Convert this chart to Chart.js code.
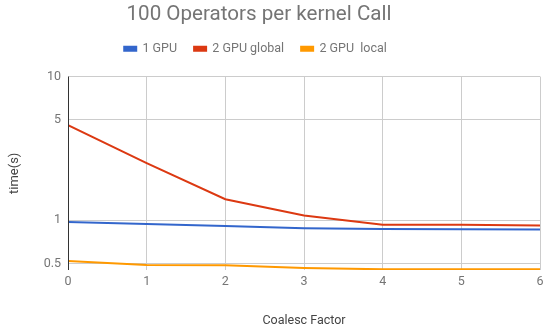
<!DOCTYPE html>
<html>
<head>
<meta charset="utf-8">
<script src="https://cdn.jsdelivr.net/npm/chart.js@4"></script>
<style>
    html, body { margin: 0; padding: 0; background: #fff; }
    #wrap { width: 550px; height: 330px; position: relative; }
</style>
</head>
<body>
<div id="wrap"><canvas id="chart"></canvas></div>
<script>
const coalescFactor = [0, 1, 2, 3, 4, 5, 6];
const oneGpu = [0.97, 0.94, 0.91, 0.88, 0.87, 0.865, 0.86];
const twoGpuGlobal = [4.6, 2.5, 1.4, 1.08, 0.93, 0.93, 0.92];
const twoGpuLocal = [0.52, 0.487, 0.485, 0.465, 0.455, 0.455, 0.455];
const yTicks = [0.5, 1, 5, 10];

const textColor = '#757575';
const font = 'Roboto';

function toPoints(values) {
    return coalescFactor.map((x, i) => ({ x: x, y: values[i] }));
}

// dark left axis line like the original
const leftAxisLine = {
    id: 'leftAxisLine',
    afterDatasetsDraw(chart) {
        const { ctx, chartArea } = chart;
        ctx.save();
        ctx.strokeStyle = '#333';
        ctx.lineWidth = 1;
        ctx.beginPath();
        ctx.moveTo(chartArea.left + 0.5, chartArea.top);
        ctx.lineTo(chartArea.left + 0.5, chartArea.bottom);
        ctx.stroke();
        ctx.restore();
    }
};

// extra gap under the legend, and title/legend centred a bit left of the canvas centre
const headerLayout = {
    id: 'headerLayout',
    beforeLayout(chart) {
        const lg = chart.legend;
        if (lg && !lg._patched) {
            const fit = lg.fit.bind(lg);
            lg.fit = function () { fit(); this.height += 11.5; };
            lg._patched = true;
        }
    },
    afterLayout(chart) {
        if (chart.titleBlock) { chart.titleBlock.left = 0; chart.titleBlock.right = 518; }
        if (chart.legend) { chart.legend.left = 0; chart.legend.right = 511; }
    }
};

new Chart(document.getElementById('chart'), {
    type: 'line',
    data: {
        datasets: [
            { label: '1 GPU', data: toPoints(oneGpu), borderColor: '#3366cc', backgroundColor: '#3366cc' },
            { label: '2 GPU global', data: toPoints(twoGpuGlobal), borderColor: '#dc3912', backgroundColor: '#dc3912' },
            { label: '2 GPU  local', data: toPoints(twoGpuLocal), borderColor: '#ff9900', backgroundColor: '#ff9900' }
        ]
    },
    options: {
        responsive: true,
        maintainAspectRatio: false,
        animation: false,
        elements: {
            line: { borderWidth: 2, tension: 0 },
            point: { radius: 0 }
        },
        layout: { padding: { left: 0, right: 10, top: 0, bottom: 0 } },
        plugins: {
            title: {
                display: true,
                text: '100 Operators per kernel Call',
                color: textColor,
                font: { family: font, size: 20.6, weight: 'normal', lineHeight: 1 },
                padding: { top: 5, bottom: 0 }
            },
            legend: {
                labels: {
                    color: textColor,
                    font: { family: font, size: 12.5 },
                    boxWidth: 12,
                    boxHeight: 4,
                    padding: 17
                }
            },
            tooltip: { enabled: false }
        },
        scales: {
            x: {
                type: 'linear',
                min: 0,
                max: 6,
                ticks: { stepSize: 1, color: textColor, padding: 4, font: { family: font, size: 12.5 } },
                grid: { color: '#cccccc', drawTicks: false },
                border: { display: false },
                title: {
                    display: true,
                    text: 'Coalesc Factor',
                    color: '#444',
                    font: { family: font, size: 12.5 },
                    padding: { top: 4, bottom: 1.5 }
                },
                afterFit(scale) { scale.height = 60; }
            },
            y: {
                type: 'logarithmic',
                min: 0.45,
                max: 10,
                afterBuildTicks(scale) {
                    scale.ticks = yTicks.map(v => ({ value: v }));
                },
                ticks: {
                    color: textColor,
                    font: { family: font, size: 12.5 },
                    padding: 7,
                    callback: v => String(v)
                },
                grid: { color: '#cccccc', drawTicks: false },
                border: { display: false },
                title: {
                    display: true,
                    text: 'time(s)',
                    color: '#444',
                    font: { family: font, size: 13 },
                    padding: { top: 7, bottom: 4 }
                },
                afterFit(scale) { scale.width = 68; }
            }
        }
    },
    plugins: [leftAxisLine, headerLayout]
});
</script>
</body>
</html>
